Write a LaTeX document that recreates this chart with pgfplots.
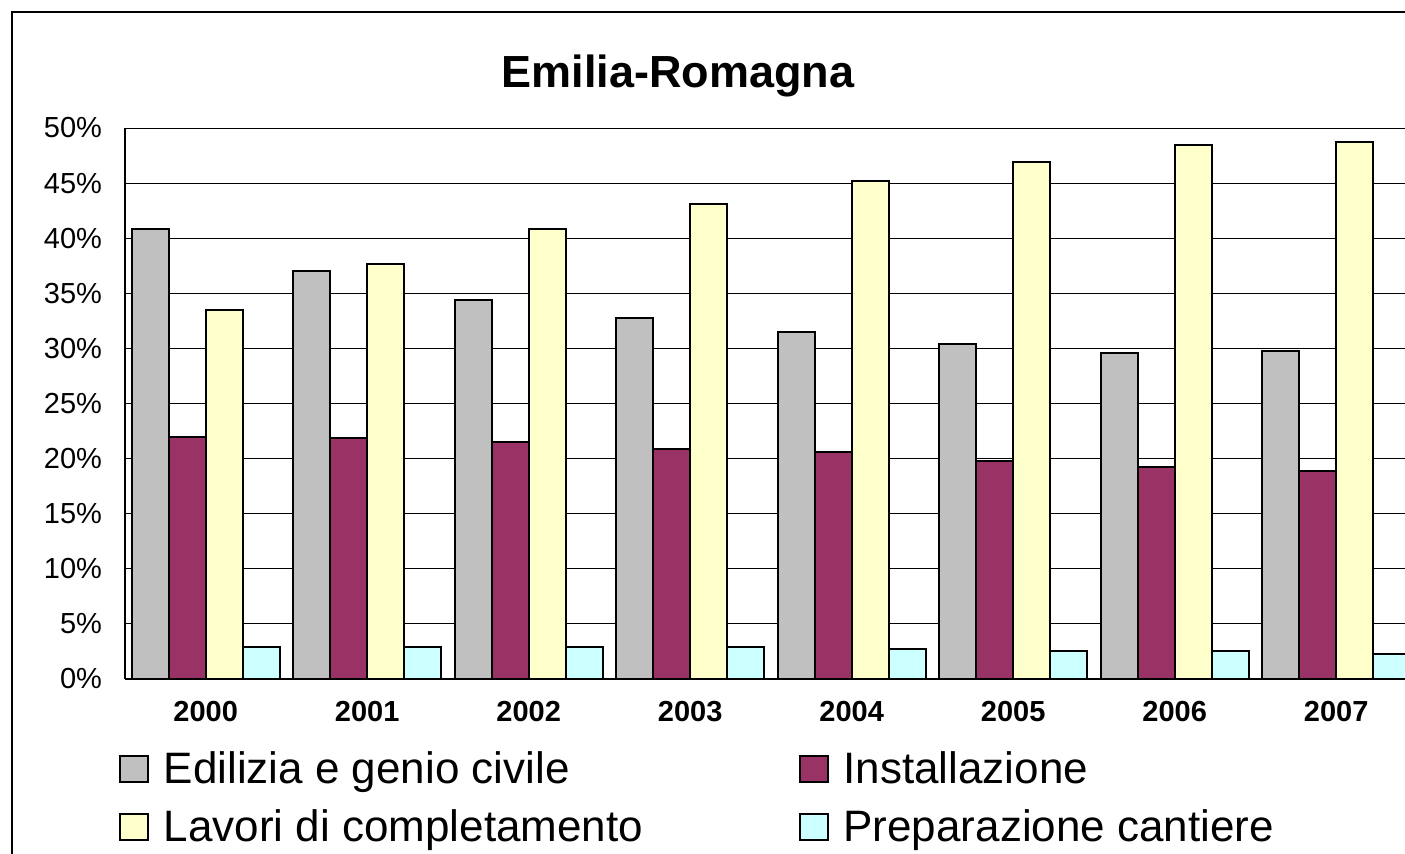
\documentclass[border=0pt]{standalone}
\usepackage{fontspec}
\setmainfont{Liberation Sans}
\usepackage{pgfplots}
\pgfplotsset{compat=1.18}
\definecolor{cgray}{HTML}{C0C0C0}
\definecolor{cpurple}{HTML}{993366}
\definecolor{cyellow}{HTML}{FFFFCC}
\definecolor{ccyan}{HTML}{CCFFFF}
\begin{document}
\begin{tikzpicture}
\begin{axis}[
  at={(62.5pt,87pt)}, anchor=south west,
  scale only axis, width=646pt, height=275.5pt,
  ybar=0pt, bar width=18.5pt,
  xmin=-0.5, xmax=7.5, ymin=0, ymax=50,
  xtick={0,1,2,3,4,5,6,7},
  xticklabels={2000,2001,2002,2003,2004,2005,2006,2007},
  ytick={0,5,10,15,20,25,30,35,40,45,50},
  yticklabel={\pgfmathprintnumber{\tick}\%},
  /pgf/number format/assume math mode=true,
  ymajorgrids, grid style={black, line width=0.5pt},
  axis line style={black, line width=0.75pt},
  major tick length=0pt,
  axis x line*=bottom, axis y line*=left,
  yticklabel style={font=\fontsize{14.5}{17}\selectfont, xshift=-8pt},
  xticklabel style={font=\fontsize{14.5}{17}\selectfont\bfseries, yshift=-7.5pt},
  every axis plot/.append style={draw=black, line width=1pt},
  legend image code/.code={\draw[#1,draw=black,line width=0.9pt] (0pt,-4.5pt) rectangle (14pt,8.5pt);},
  legend columns=2,
  legend style={at={(axis description cs:-0.005,-0.135)}, anchor=north west,
    draw=none, fill=none, inner sep=0pt,
    font=\fontsize{22}{26}\selectfont,
    nodes={inner sep=0pt, text height=15pt, text depth=4pt},
    row sep=10pt,
    /tikz/every odd column/.append style={column sep=7.5pt}},
  legend cell align=left,
  clip=false,
]
\draw[black, line width=0.5pt] (axis cs:-0.5,50) -- (axis cs:7.5,50);
\addplot[fill=cgray] coordinates {(0,40.8) (1,37.0) (2,34.4) (3,32.8) (4,31.5) (5,30.4) (6,29.6) (7,29.8)};
\addplot[fill=cpurple] coordinates {(0,22.0) (1,21.9) (2,21.5) (3,20.9) (4,20.6) (5,19.8) (6,19.2) (7,18.9)};
\addplot[fill=cyellow] coordinates {(0,33.5) (1,37.7) (2,40.8) (3,43.1) (4,45.2) (5,46.9) (6,48.5) (7,48.7)};
\addplot[fill=ccyan] coordinates {(0,2.9) (1,2.9) (2,2.9) (3,2.9) (4,2.7) (5,2.5) (6,2.5) (7,2.3)};
\addlegendentry{\makebox[317.5pt][l]{Edilizia e genio civile}}
\addlegendentry{Installazione}
\addlegendentry{\makebox[317.5pt][l]{Lavori di completamento}}
\addlegendentry{Preparazione cantiere}
\end{axis}
\node[anchor=base, font=\fontsize{22.5}{26}\selectfont\bfseries] at (339pt,382.5pt) {Emilia-Romagna};
\draw[black, line width=1.25pt] (6pt,-20pt) -- (6pt,420.5pt) -- (730pt,420.5pt);
\pgfresetboundingbox
\useasboundingbox (0pt,0pt) rectangle (702.5pt,426.5pt);
\end{tikzpicture}
\end{document}
